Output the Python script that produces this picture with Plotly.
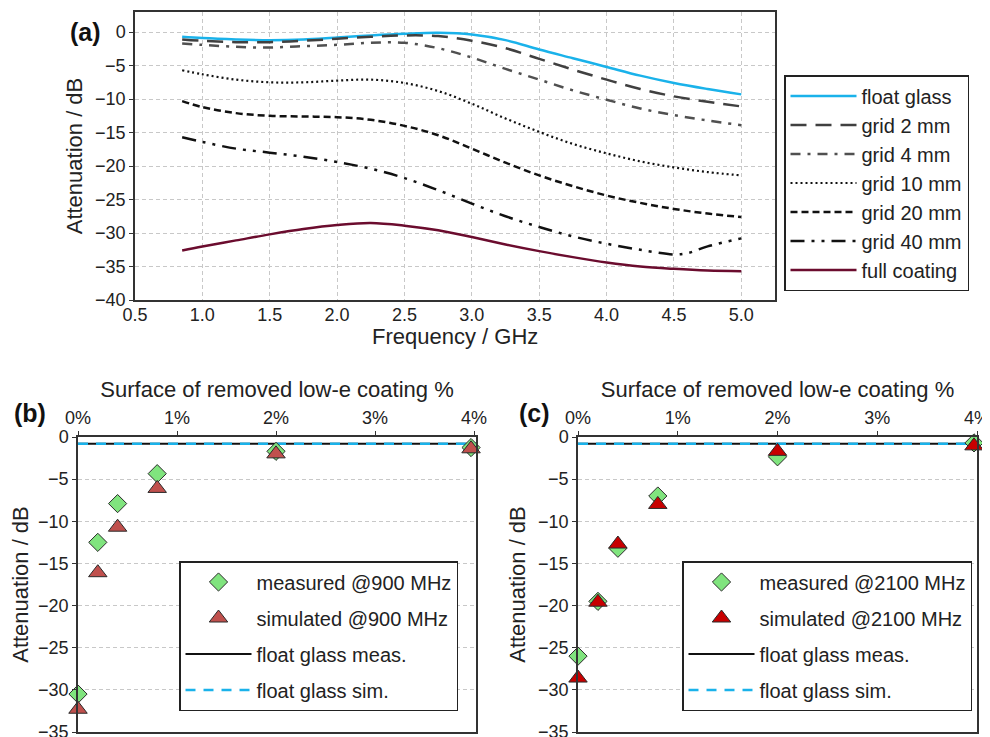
import plotly.graph_objects as go

# ---------------- data: panel (a) ----------------
freq = [0.85, 1.0, 1.25, 1.5, 1.75, 2.0, 2.25, 2.5, 2.75, 3.0, 3.25, 3.5, 3.75, 4.0, 4.25, 4.5, 4.75, 5.0]
float_glass = [-0.7, -0.9, -1.1, -1.2, -1.1, -0.8, -0.5, -0.25, -0.1, -0.35, -1.2, -2.6, -3.9, -5.2, -6.5, -7.6, -8.5, -9.3]
grid_2mm = [-1.1, -1.3, -1.5, -1.5, -1.3, -1.0, -0.7, -0.5, -0.6, -1.3, -2.4, -4.0, -5.6, -7.1, -8.5, -9.6, -10.4, -11.1]
grid_4mm = [-1.7, -1.9, -2.2, -2.3, -2.1, -1.9, -1.6, -1.6, -2.4, -3.8, -5.5, -7.1, -8.7, -10.1, -11.4, -12.4, -13.2, -13.9]
grid_10mm = [-5.7, -6.3, -7.1, -7.5, -7.5, -7.25, -7.1, -7.6, -8.8, -10.7, -12.9, -14.9, -16.7, -18.1, -19.3, -20.2, -20.9, -21.4]
grid_20mm = [-10.3, -11.2, -12.1, -12.5, -12.6, -12.7, -13.1, -14.0, -15.4, -17.4, -19.5, -21.4, -23.0, -24.4, -25.5, -26.4, -27.1, -27.6]
freq_40 = [0.85, 1.0, 1.25, 1.5, 1.75, 2.0, 2.25, 2.5, 2.75, 3.0, 3.25, 3.5, 3.75, 4.0, 4.25, 4.5, 4.6, 4.75, 5.0]
grid_40mm = [-15.7, -16.4, -17.4, -18.0, -18.6, -19.4, -20.4, -21.8, -23.6, -25.6, -27.5, -29.1, -30.5, -31.6, -32.5, -33.2, -33.0, -32.0, -30.8]
full_coating = [-32.6, -32.0, -31.1, -30.2, -29.4, -28.8, -28.5, -28.9, -29.6, -30.6, -31.7, -32.7, -33.6, -34.4, -35.0, -35.35, -35.6, -35.7]
freq_ticks = [0.5, 1.0, 1.5, 2.0, 2.5, 3.0, 3.5, 4.0, 4.5, 5.0]

# ---------------- data: panels (b) and (c) ----------------
removed_pct = [0.0, 0.2, 0.4, 0.8, 2.0, 3.97]
meas_900 = [-30.5, -12.5, -7.9, -4.35, -1.7, -1.25]
sim_900 = [-32.3, -16.1, -10.7, -6.1, -2.0, -1.4]
meas_2100 = [-26.0, -19.5, -13.2, -7.0, -2.35, -0.7]
sim_2100 = [-28.6, -19.6, -12.7, -8.0, -1.7, -1.05]
float_meas_level = -0.8
float_sim_level = -0.8
pct_span = [0.0, 4.02]
pct_ticks = [0, 1, 2, 3, 4]
pct_labels = ["0%", "1%", "2%", "3%", "4%"]

FONT = "Liberation Sans, Arial, sans-serif"
TXT = "#222222"

fig = go.Figure()

def line_a(x, y, name, color, dash, width=2.5):
    fig.add_trace(go.Scatter(
        x=x, y=y, name=name, mode="lines",
        line=dict(color=color, dash=dash, width=width, shape="spline", smoothing=1.0),
        xaxis="x", yaxis="y", legend="legend", legendgroup=name))

line_a(freq, float_glass, "float glass", "#1AB2EA", "solid")
line_a(freq, grid_2mm, "grid 2 mm", "#404040", "16px,9px")
line_a(freq, grid_4mm, "grid 4 mm", "#505050", "10px,7px,3px,7px")
line_a(freq, grid_10mm, "grid 10 mm", "#111111", "2px,3px", 2.2)
line_a(freq, grid_20mm, "grid 20 mm", "#111111", "7px,4px")
line_a(freq_40, grid_40mm, "grid 40 mm", "#111111", "14px,7px,3px,7px,3px,7px")
line_a(freq, full_coating, "full coating", "#6B0C2E", "solid")

def panel(xa, ya, leg, meas, sim, meas_name, sim_name, sim_color):
    fig.add_trace(go.Scatter(
        x=pct_span, y=[float_meas_level] * 2, mode="lines", name="float glass meas.",
        line=dict(color="#111111", width=2), xaxis=xa, yaxis=ya, legend=leg,
        legendgroup=leg + "c", legendrank=3))
    fig.add_trace(go.Scatter(
        x=pct_span, y=[float_sim_level] * 2, mode="lines", name="float glass sim.",
        line=dict(color="#1AB2EA", width=2.5, dash="10px,8px"), xaxis=xa, yaxis=ya, legend=leg,
        legendgroup=leg + "d", legendrank=4))
    fig.add_trace(go.Scatter(
        x=removed_pct, y=meas, mode="markers", name=meas_name,
        marker=dict(symbol="diamond", size=14, color="#80E47E", line=dict(color="#2a2a2a", width=1)),
        xaxis=xa, yaxis=ya, legend=leg, legendgroup=leg + "a", legendrank=1, cliponaxis=False))
    fig.add_trace(go.Scatter(
        x=removed_pct, y=sim, mode="markers", name=sim_name,
        marker=dict(symbol="triangle-up", size=16, color=sim_color, line=dict(color="#2a2a2a", width=1)),
        xaxis=xa, yaxis=ya, legend=leg, legendgroup=leg + "b", legendrank=2, cliponaxis=False))

panel("x2", "y2", "legend2", meas_900, sim_900, "measured @900 MHz", "simulated @900 MHz", "#C0504D")
panel("x3", "y3", "legend3", meas_2100, sim_2100, "measured @2100 MHz", "simulated @2100 MHz", "#C80000")

# page body has an 8px margin: the figure is sized to fit inside it
OFF = 8
W, H = 990 - OFF, 737 - OFF
def fx(px): return (px - OFF) / W
def fy(py): return 1 - (py - OFF) / H

axis_common = dict(showline=True, linecolor="#333333", linewidth=1.5, mirror=True,
                   ticks="outside", ticklen=4, tickcolor="#333333", automargin=False,
                   ticklabeloverflow="allow",
                   tickfont=dict(family=FONT, size=18, color=TXT), zeroline=False)
grid_style = dict(showgrid=True, gridcolor="#C8C8C8", griddash="4px,3px", gridwidth=1)
title_font = dict(size=22, family=FONT, color=TXT)

leg_common = dict(bgcolor="white", bordercolor="#222222", borderwidth=1.5,
                  font=dict(family=FONT, size=20, color=TXT), xanchor="left", yanchor="top",
                  xref="paper", yref="paper", itemwidth=66)

xa_common = dict(axis_common)
xa_common.update(ticks="", ticklabelstandoff=-2)

fig.update_layout(
    width=W, height=H, margin=dict(l=0, r=0, t=0, b=0, autoexpand=False),
    paper_bgcolor="white", plot_bgcolor="white",
    font=dict(family=FONT, color=TXT),
    xaxis=dict(domain=[fx(135), fx(775)], range=[0.5, 5.25], anchor="y",
               tickvals=freq_ticks, tickformat=".1f",
               **xa_common, **grid_style),
    yaxis=dict(domain=[fy(300), fy(12)], range=[-40, 3], anchor="x", dtick=5,
               title=dict(text="Attenuation / dB", font=title_font, standoff=6),
               **axis_common, **grid_style),
    xaxis2=dict(domain=[fx(78), fx(476)], range=[0, 4.02], anchor="y2", side="top",
                tickvals=pct_ticks, ticktext=pct_labels, showgrid=False,
                title=dict(text="Surface of removed low-e coating %", font=title_font, standoff=4),
                **axis_common),
    yaxis2=dict(domain=[fy(732), fy(437)], range=[-35, 0], anchor="x2", dtick=5,
                title=dict(text="Attenuation / dB", font=title_font, standoff=4),
                **axis_common, **grid_style),
    xaxis3=dict(domain=[fx(578), fx(977)], range=[0, 4.0], anchor="y3", side="top",
                tickvals=pct_ticks, ticktext=pct_labels, showgrid=False,
                title=dict(text="Surface of removed low-e coating %", font=title_font, standoff=4),
                **axis_common),
    yaxis3=dict(domain=[fy(732), fy(437)], range=[-35, 0], anchor="x3", dtick=5,
                title=dict(text="Attenuation / dB", font=title_font, standoff=6),
                **axis_common, **grid_style),
    legend=dict(x=fx(784), y=fy(75), tracegroupgap=0, **leg_common),
    legend2=dict(x=fx(179), y=fy(561), tracegroupgap=7, **leg_common),
    legend3=dict(x=fx(682), y=fy(561), tracegroupgap=7, **leg_common),
    showlegend=True,
)

fig.add_annotation(text="Frequency / GHz", x=fx(455), y=fy(336), xref="paper", yref="paper",
                   xanchor="center", yanchor="middle", showarrow=False, font=title_font)

for txt, x, y in [("(a)", 68, 32), ("(b)", 12, 413), ("(c)", 517, 413)]:
    fig.add_annotation(text="<b>%s</b>" % txt, x=fx(x), y=fy(y), xref="paper", yref="paper",
                       xanchor="left", yanchor="middle", showarrow=False,
                       font=dict(family=FONT, size=25, color="#111111"))

fig.write_html("out.html")
